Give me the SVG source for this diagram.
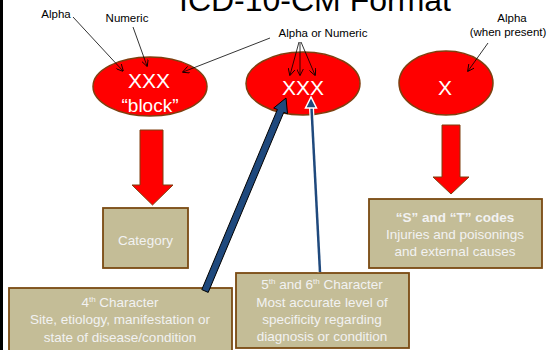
<svg xmlns="http://www.w3.org/2000/svg" width="550" height="350" viewBox="0 0 550 350">
<defs>
<style>
.t{font-family:"Liberation Sans",Arial,sans-serif;}
.lbl{font-family:"Liberation Sans",Arial,sans-serif;font-size:11.5px;fill:#000;text-anchor:middle;}
.ell{fill:#FF0000;stroke:#7F3F0F;stroke-width:1.5;}
.code{font-family:"Liberation Sans",Arial,sans-serif;font-size:21px;fill:#fff;text-anchor:middle;}
.box{fill:#C4BD97;stroke:#7A4A12;stroke-width:1.8;}
.bt{font-family:"Liberation Sans",Arial,sans-serif;font-size:13.5px;fill:#F2F2F2;text-anchor:middle;}
.thin{stroke:#000;stroke-width:0.8;fill:none;marker-end:url(#ah);}
.red{fill:#FF0000;stroke:#7F3F0F;stroke-width:1;}
</style>
<marker id="ah" viewBox="0 0 10 10" refX="9" refY="5" markerWidth="7" markerHeight="7" orient="auto" markerUnits="userSpaceOnUse">
<path d="M0,0 L10,5 L0,10" fill="none" stroke="#000" stroke-width="1.2"/>
</marker>
</defs>
<rect x="0" y="0" width="550" height="350" fill="#fff"/>
<rect x="0" y="0" width="3" height="350" fill="#000"/>
<text x="315" y="11" class="t" font-size="32" text-anchor="middle" fill="#000">ICD-10-CM Format</text>

<g id="label-alpha1"><text x="56" y="18" class="lbl">Alpha</text></g>
<g id="label-numeric"><text x="127" y="22" class="lbl">Numeric</text></g>
<g id="label-alphanum"><text x="323" y="37" class="lbl">Alpha or Numeric</text></g>
<g id="label-alpha2"><text x="512" y="22" class="lbl">Alpha</text><text x="508" y="36" class="lbl">(when present)</text></g>

<g id="node-block">
<ellipse cx="150" cy="86.5" rx="57" ry="29.5" class="ell"/>
<text x="149" y="88" class="code">XXX</text>
<text x="150" y="112" class="t" font-size="19" fill="#fff" text-anchor="middle">“block”</text>
</g>
<g id="node-xxx">
<ellipse cx="303" cy="83.5" rx="57" ry="31.5" class="ell"/>
<text x="303" y="95" class="code">XXX</text>
</g>
<g id="node-x">
<ellipse cx="446" cy="83" rx="47" ry="32" class="ell"/>
<text x="445" y="95" class="code">X</text>
</g>

<g id="node-category">
<rect x="103" y="208" width="85" height="60" class="box"/>
<text x="145.5" y="245" class="bt">Category</text>
</g>
<g id="node-st">
<rect x="369" y="199" width="173" height="69" class="box"/>
<text x="455" y="222" class="bt" font-weight="bold">“S” and “T” codes</text>
<text x="455" y="239" class="bt">Injuries and poisonings</text>
<text x="455" y="256" class="bt">and external causes</text>
</g>
<g id="node-4th">
<rect x="9" y="288" width="223" height="64" class="box"/>
<text x="120" y="307" class="bt">4<tspan font-size="8" dy="-5">th</tspan><tspan dy="5"> Character</tspan></text>
<text x="120" y="324" class="bt">Site, etiology, manifestation or</text>
<text x="120" y="342" class="bt">state of disease/condition</text>
</g>
<g id="node-56th">
<rect x="236" y="273" width="173" height="75" class="box"/>
<text x="322" y="289" class="bt">5<tspan font-size="8" dy="-5">th</tspan><tspan dy="5"> and 6</tspan><tspan font-size="8" dy="-5">th</tspan><tspan dy="5"> Character</tspan></text>
<text x="322" y="307" class="bt">Most accurate level of</text>
<text x="322" y="324" class="bt">specificity regarding</text>
<text x="322" y="341" class="bt">diagnosis or condition</text>
</g>

<g id="connectors">
<line x1="73" y1="17" x2="123" y2="71" class="thin"/>
<line x1="133" y1="27" x2="147" y2="66" class="thin"/>
<line x1="270" y1="38" x2="183" y2="72" class="thin"/>
<line x1="299" y1="42" x2="290" y2="75" class="thin"/>
<line x1="300" y1="42" x2="300" y2="75" class="thin"/>
<line x1="301" y1="42" x2="315" y2="75" class="thin"/>
<line x1="488" y1="43" x2="468" y2="71" class="thin"/>
<polygon class="red" points="140,130 163,130 163,185 173,185 152.5,205 132,185 140,185"/>
<polygon class="red" points="442,125 460,125 460,177 469,177 451,194 433,177 442,177"/>
<polygon fill="#1F497D" stroke="#000" stroke-width="1" stroke-linejoin="miter" points="201.8,289.6 277.4,109.5 273.7,108 286,98 287.5,113.8 283.8,112.3 208.2,292.4"/>
<line x1="320" y1="272" x2="311.4" y2="106" stroke="#fff" stroke-width="5"/>
<line x1="320" y1="272" x2="311.4" y2="106" stroke="#1F497D" stroke-width="2.5"/>
<polygon points="311,97 305.5,108 316.5,108" fill="#1F497D" stroke="#fff" stroke-width="1.5"/>
</g>
</svg>
